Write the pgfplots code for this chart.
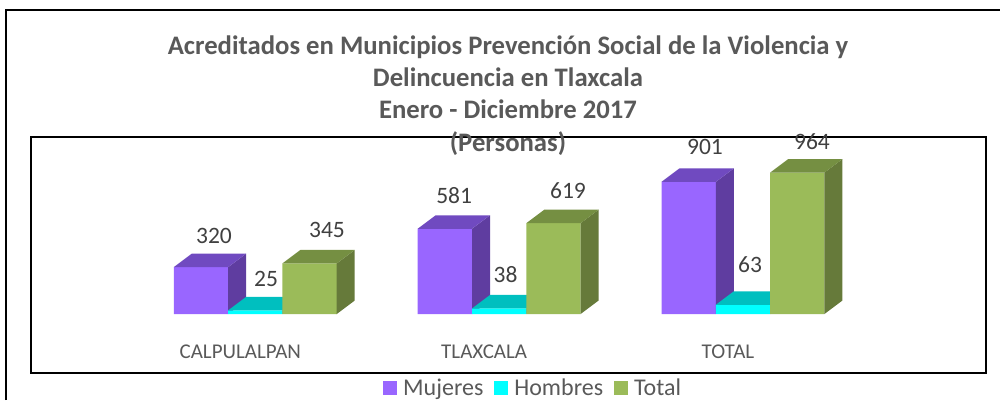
\documentclass[border=0pt]{standalone}
\usepackage{fontspec}
\setmainfont{Carlito}
\usepackage{pgfplots}
\pgfplotsset{compat=1.18}
\definecolor{txt}{HTML}{595959}
\definecolor{lab}{HTML}{404040}
\definecolor{mujF}{HTML}{9966FF}
\definecolor{mujS}{HTML}{5F3DA0}
\definecolor{mujT}{HTML}{704AC0}
\definecolor{homF}{HTML}{00FFFF}
\definecolor{homS}{HTML}{009999}
\definecolor{homT}{HTML}{00BFBF}
\definecolor{totF}{HTML}{9BBB59}
\definecolor{totS}{HTML}{667A3A}
\definecolor{totT}{HTML}{758F42}

% side and top face of one bar: left edge, value, side colour, top colour
\newcommand{\barfaces}[4]{%
  \pgfmathsetmacro{\xl}{#1}%
  \pgfmathsetmacro{\xr}{#1+0.2227}%
  \pgfmathsetmacro{\xlb}{#1+0.0738}%
  \pgfmathsetmacro{\xrb}{#1+0.2965}%
  \pgfmathsetmacro{\vb}{#2+92}%
  \addplot[fill=#3,draw=none,forget plot] coordinates {(\xr,0) (\xrb,92) (\xrb,\vb) (\xr,#2)} -- cycle;
  \addplot[fill=#4,draw=none,forget plot] coordinates {(\xl,#2) (\xr,#2) (\xrb,\vb) (\xlb,\vb)} -- cycle;
}

\pgfplotsset{
  front/.style={ybar,bar width=54.3pt,draw=none,fill=#1,
    legend image code/.code={\fill[#1] (0pt,-7pt) rectangle (14pt,7pt);\path (18pt,0pt);},
    visualization depends on=\thisrow{dx} \as \dx,
    visualization depends on=\thisrow{dy} \as \dy,
    nodes near coords,
    every node near coord/.append style={anchor=center,xshift=\dx pt,yshift=\dy pt,
      text=lab,font=\fontsize{23.5}{28}\selectfont}},
}

\begin{document}
\begin{tikzpicture}[x=1pt,y=1pt]
\path[use as bounding box] (0,0) rectangle (1000,400);
\draw[line width=1.5pt] (6,0) -- (6,390) -- (1000,390);
\begin{axis}[
  at={(31pt,27pt)},anchor=south west,
  scale only axis,width=955pt,height=236pt,
  xmin=-0.9198,xmax=2.9965,ymin=-402,ymax=1206.5,
  clip=false,
  axis line style={line width=1.5pt},
  ytick=\empty,
  xtick={0,1,2},
  xticklabels={CALPULALPAN,TLAXCALA,TOTAL},
  tick style={draw=none},
  xticklabel style={anchor=center,xshift=-15pt,yshift=21.5pt,text=txt,font=\fontsize{21}{24}\selectfont},
  /pgf/number format/assume math mode=true,
  legend style={at={(352pt,-4pt)},anchor=north west,draw=none,fill=none,
    legend columns=3,inner sep=0pt,
    font=\fontsize{24}{26}\selectfont,text=txt,
    /tikz/every even column/.append style={column sep=9pt}},
]
% mujeres
\addplot[front=mujF,bar shift=-54.3pt] table {
x y dx dy
0 320 -41.3 31
1 581 -45 33
2 901 -38 35
};
\barfaces{-0.3340}{320}{mujS}{mujT}
\barfaces{0.6660}{581}{mujS}{mujT}
\barfaces{1.6660}{901}{mujS}{mujT}
% hombres
\addplot[front=homF,bar shift=0pt] table {
x y dx dy
0 25 10.7 31
1 38 6.5 34
2 63 7 40
};
\barfaces{-0.1113}{25}{homS}{homT}
\barfaces{0.8887}{38}{homS}{homT}
\barfaces{1.8887}{63}{homS}{homT}
% total
\addplot[front=totF,bar shift=54.3pt] table {
x y dx dy
0 345 71.7 33
1 619 68.8 33
2 964 69 31
};
\barfaces{0.1113}{345}{totS}{totT}
\barfaces{1.1113}{619}{totS}{totT}
\barfaces{2.1113}{964}{totS}{totT}
\legend{Mujeres,Hombres,Total}
\end{axis}
\node[anchor=center,align=center,text=txt,font=\bfseries\fontsize{26.7}{32.3}\selectfont]
  at (508,304.5) {Acreditados en Municipios Prevención Social de la Violencia y\\
  Delincuencia en Tlaxcala\\Enero - Diciembre 2017\\(Personas)};
\end{tikzpicture}
\end{document}
